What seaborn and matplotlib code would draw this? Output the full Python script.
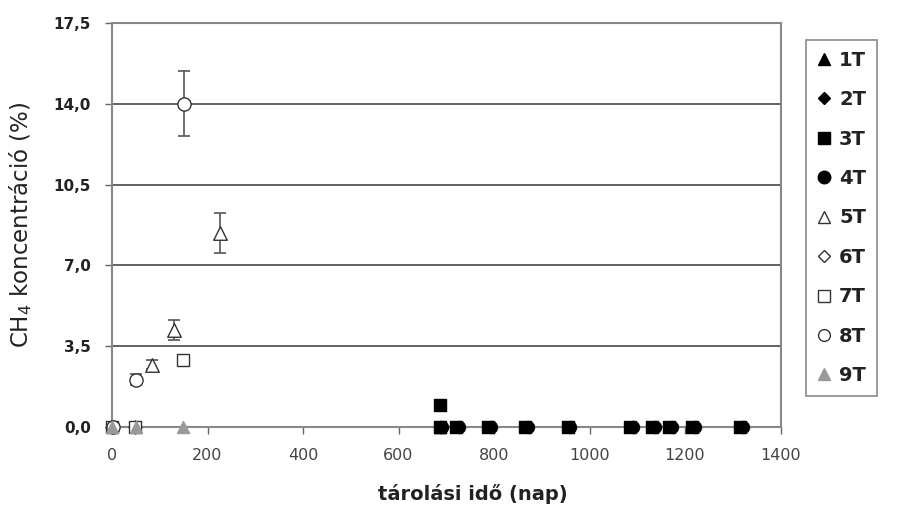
import matplotlib
matplotlib.use("Agg")
import matplotlib.pyplot as plt
import seaborn as sns
import pandas as pd
from matplotlib.ticker import FuncFormatter, MultipleLocator
from matplotlib.lines import Line2D

# ---- data (days, CH4 %, error) ----
t1_x = [686]; t1_y = [0.0]
t2_x = [686]; t2_y = [0.0]
t3_x = [686, 686, 721, 788, 865, 954, 1085, 1131, 1167, 1215, 1315]
t3_y = [0.95, 0.0, 0.0, 0.0, 0.0, 0.0, 0.0, 0.0, 0.0, 0.0, 0.0]
t4_x = [692, 727, 794, 871, 960, 1091, 1137, 1173, 1221, 1321]
t4_y = [0.0, 0.0, 0.0, 0.0, 0.0, 0.0, 0.0, 0.0, 0.0, 0.0]
t5_x = [83, 129, 227]; t5_y = [2.7, 4.2, 8.4]; t5_err = [0.2, 0.45, 0.86]
t6_x = [0, 48]; t6_y = [0.0, 0.0]
t7_x = [0, 48, 148]; t7_y = [0.0, 0.0, 2.9]
t8_x = [2, 50, 150]; t8_y = [0.0, 2.05, 14.0]; t8_err = [0.0, 0.25, 1.4]
t9_x = [0, 50, 148]; t9_y = [0.0, 0.0, 0.0]

labels = ["1T", "2T", "3T", "4T", "5T", "6T", "7T", "8T", "9T"]
xs = [t1_x, t2_x, t3_x, t4_x, t5_x, t6_x, t7_x, t8_x, t9_x]
ys = [t1_y, t2_y, t3_y, t4_y, t5_y, t6_y, t7_y, t8_y, t9_y]

styles = {
    "1T": dict(marker="^", facecolor="black", edgecolor="black", s=75),
    "2T": dict(marker="D", facecolor="black", edgecolor="black", s=40),
    "3T": dict(marker="s", facecolor="black", edgecolor="black", s=75),
    "4T": dict(marker="o", facecolor="black", edgecolor="black", s=75),
    "5T": dict(marker="^", facecolor="white", edgecolor="#333333", s=95),
    "6T": dict(marker="D", facecolor="white", edgecolor="#333333", s=45),
    "7T": dict(marker="s", facecolor="white", edgecolor="#333333", s=85),
    "8T": dict(marker="o", facecolor="white", edgecolor="#333333", s=90),
    "9T": dict(marker="^", facecolor="#999999", edgecolor="#999999", s=75),
}
legend_ms = {"1T": 9, "2T": 6.5, "3T": 9, "4T": 9, "5T": 8.5,
             "6T": 6, "7T": 8, "8T": 8.5, "9T": 9}

sns.set_theme(style="white")
plt.rcParams["font.family"] = ["DejaVu Sans"]

fig = plt.figure(figsize=(8.99, 5.08), dpi=100)
ax = fig.add_axes([0.1246, 0.1594, 0.7436, 0.7953])

for v in [3.5, 7.0, 10.5, 14.0]:
    ax.axhline(v, color="#555555", lw=1.3, zorder=0)

ax.errorbar(t5_x, t5_y, yerr=t5_err, fmt="none", ecolor="#555555", elinewidth=1.2,
            capsize=4, capthick=1.2, zorder=1)
ax.errorbar(t8_x, t8_y, yerr=t8_err, fmt="none", ecolor="#555555", elinewidth=1.2,
            capsize=4, capthick=1.2, zorder=1)

order_draw = ["6T", "7T", "8T", "9T", "5T", "4T", "3T", "2T", "1T"]
for lab in order_draw:
    i = labels.index(lab)
    df = pd.DataFrame({"x": xs[i], "y": ys[i]})
    st = styles[lab]
    sns.scatterplot(data=df, x="x", y="y", ax=ax, marker=st["marker"], s=st["s"],
                    color=st["facecolor"], edgecolor=st["edgecolor"], linewidth=1.0,
                    zorder=3, clip_on=False, legend=False)

leg_handles = []
for lab in labels:
    st = styles[lab]
    leg_handles.append(Line2D([], [], linestyle="none", marker=st["marker"],
                              markersize=legend_ms[lab],
                              markerfacecolor=st["facecolor"], markeredgecolor=st["edgecolor"],
                              markeredgewidth=1.0, label=lab))

leg = fig.legend(handles=leg_handles, loc="upper left", bbox_to_anchor=(0.8966, 0.921),
                 frameon=True, fancybox=False, handlelength=0.7, handletextpad=0.45,
                 labelspacing=1.05, borderpad=0.55, borderaxespad=0,
                 prop={"weight": "bold", "size": 14})
leg.get_frame().set_edgecolor("#777777")
leg.get_frame().set_linewidth(1.3)
for t in leg.get_texts():
    t.set_color("#222222")

ax.set_xlim(0, 1400)
ax.set_ylim(0, 17.5)
ax.xaxis.set_major_locator(MultipleLocator(200))
ax.yaxis.set_major_locator(MultipleLocator(3.5))
ax.yaxis.set_major_formatter(FuncFormatter(lambda v, p: f"{v:.1f}".replace(".", ",")))

for side in ["left", "bottom", "top", "right"]:
    ax.spines[side].set_color("#888888")
    ax.spines[side].set_linewidth(1.5)

ax.tick_params(axis="both", which="major", direction="out", length=5, width=1,
               color="#666666", bottom=True, left=True)
ax.tick_params(axis="x", labelsize=11.5, labelcolor="#444444", pad=10)
ax.tick_params(axis="y", labelsize=11, labelcolor="#222222", pad=10)
for lbl in ax.get_yticklabels():
    lbl.set_fontweight("bold")

ax.set_xlabel("tárolási idő (nap)", fontsize=14, fontweight="bold", color="#222222")
ax.xaxis.set_label_coords(0.54, -0.14)
ax.set_ylabel("CH$_4$ koncentráció (%)", fontsize=16.5, color="#222222", labelpad=14)

fig.savefig("out.png", dpi=100, facecolor="white")
